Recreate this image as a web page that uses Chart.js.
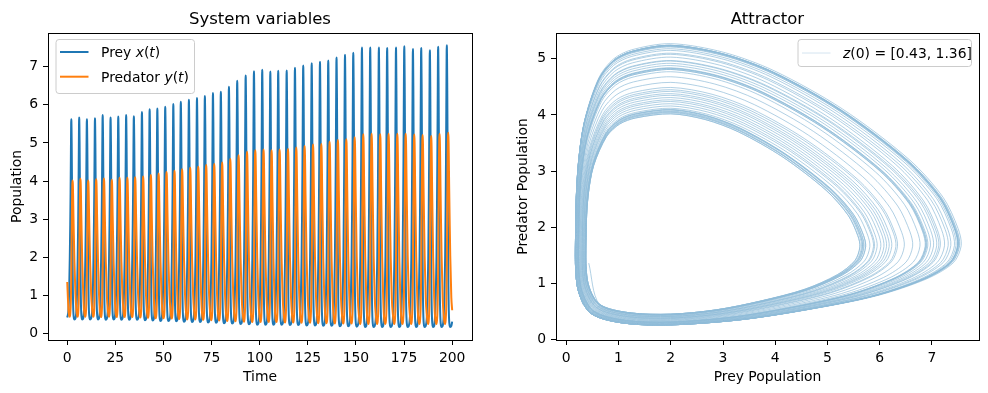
<!DOCTYPE html>
<html>
<head>
<meta charset="utf-8">
<title>Predator-prey</title>
<script src="https://cdn.jsdelivr.net/npm/chart.js@4.4.1/dist/chart.umd.min.js"></script>
<style>
  html, body { margin: 0; padding: 0; background: #fff; }
  canvas { position: absolute; top: 0; }
  #left { left: 0; }
  #right { left: 480px; }
</style>
</head>
<body>
<canvas id="left" width="480" height="393"></canvas>
<canvas id="right" width="508" height="393"></canvas>
<script>
// values, one entry per oscillation
const tPeak = [2.1, 6.2, 10.2, 14.4, 18.4, 22.5, 26.5, 30.6, 34.6, 38.8,
  42.8, 46.8, 50.9, 55.1, 59.0, 63.2, 67.4, 71.5, 75.7, 79.8,
  84.0, 88.3, 92.7, 97.0, 101.3, 105.5, 109.6, 114.0, 118.3, 122.6,
  127.0, 131.3, 135.6, 139.9, 144.3, 148.6, 153.1, 157.4, 161.9, 166.2,
  170.8, 175.1, 179.6, 183.9, 188.4, 192.7, 197.2];
const preyPeak = [5.62, 5.67, 5.62, 5.65, 5.73, 5.67, 5.69, 5.73, 5.70, 5.81,
  5.88, 5.90, 5.95, 6.02, 6.08, 6.13, 6.18, 6.23, 6.31, 6.34,
  6.47, 6.63, 6.77, 6.88, 6.92, 6.87, 6.89, 6.90, 6.97, 7.03,
  7.09, 7.13, 7.16, 7.24, 7.31, 7.36, 7.50, 7.50, 7.50, 7.49,
  7.50, 7.53, 7.46, 7.49, 7.43, 7.52, 7.56];
const predPeak = [4.02, 4.06, 4.02, 4.05, 4.07, 4.04, 4.09, 4.09, 4.10, 4.12,
  4.16, 4.20, 4.24, 4.27, 4.31, 4.35, 4.38, 4.42, 4.45, 4.49,
  4.58, 4.68, 4.77, 4.81, 4.83, 4.81, 4.83, 4.84, 4.88, 4.92,
  4.96, 4.97, 5.03, 5.08, 5.10, 5.15, 5.23, 5.24, 5.23, 5.24,
  5.24, 5.24, 5.22, 5.21, 5.18, 5.24, 5.27];
const preyLow = [0.38, 0.38, 0.38, 0.38, 0.37, 0.38, 0.37, 0.37, 0.37, 0.36,
  0.35, 0.34, 0.34, 0.33, 0.32, 0.31, 0.31, 0.30, 0.29, 0.28,
  0.27, 0.26, 0.25, 0.24, 0.24, 0.24, 0.24, 0.23, 0.23, 0.22,
  0.22, 0.21, 0.21, 0.20, 0.20, 0.19, 0.18, 0.18, 0.18, 0.18,
  0.18, 0.18, 0.18, 0.18, 0.18, 0.18, 0.18];
const predLow = [0.45, 0.45, 0.45, 0.45, 0.44, 0.45, 0.44, 0.44, 0.44, 0.43,
  0.42, 0.41, 0.41, 0.40, 0.39, 0.38, 0.38, 0.37, 0.36, 0.35,
  0.34, 0.33, 0.32, 0.31, 0.31, 0.31, 0.31, 0.30, 0.30, 0.29,
  0.29, 0.28, 0.28, 0.27, 0.27, 0.27, 0.26, 0.26, 0.26, 0.26,
  0.26, 0.26, 0.26, 0.26, 0.26, 0.26, 0.26];

const start = { t: 0, prey: 0.43, pred: 1.36 };
const end = { t: 200, prey: 0.32, pred: 0.62 };

// every loop has its top near prey = 2 and its right tip near predator = 1.6
const centre = { prey: 2.0, pred: 1.6 };
const refPeriod = 4.2;
// one loop of the outer orbit: [time from prey peak, dx, dy], -1..1 from the centre
const cycleShape = [
  [-1.50, -0.846, -0.842],
  [-1.10, -0.495, -0.977],
  [-0.80, 0, -1],
  [-0.55, 0.242, -0.932],
  [-0.37, 0.473, -0.797],
  [-0.23, 0.705, -0.617],
  [-0.13, 0.880, -0.390],
  [-0.065, 0.973, -0.173],
  [0, 1, 0.02],
  [0.05, 0.989, 0.103],
  [0.12, 0.938, 0.253],
  [0.22, 0.822, 0.436],
  [0.35, 0.591, 0.683],
  [0.46, 0.358, 0.867],
  [0.55, 0.182, 0.958],
  [0.68, 0, 1],
  [0.80, -0.412, 0.970],
  [0.88, -0.604, 0.925],
  [0.97, -0.758, 0.833],
  [1.15, -0.912, 0.617],
  [1.38, -0.978, 0.389],
  [1.68, -1, 0.119],
  [2.20, -0.984, -0.481],
];

const timeTicks = [0, 25, 50, 75, 100, 125, 150, 175, 200];
const popTicks = [0, 1, 2, 3, 4, 5, 6, 7];
const preyTicks = [0, 1, 2, 3, 4, 5, 6, 7];
const predTicks = [0, 1, 2, 3, 4, 5];

const series = [start];
for (let i = 0; i < tPeak.length; i++) {
  const period = i < tPeak.length - 1 ? tPeak[i + 1] - tPeak[i] : tPeak[i] - tPeak[i - 1];
  const k = period / refPeriod;
  for (const [dt, dx, dy] of cycleShape) {
    const t = tPeak[i] + dt * k;
    const prey = dx >= 0 ? centre.prey + dx * (preyPeak[i] - centre.prey)
                         : centre.prey + dx * (centre.prey - preyLow[i]);
    const pred = dy >= 0 ? centre.pred + dy * (predPeak[i] - centre.pred)
                         : centre.pred + dy * (centre.pred - predLow[i]);
    if (t > start.t && t < end.t) series.push({ t, prey, pred });
  }
}
series.push(end);

Chart.defaults.font.family = '"DejaVu Sans"';
const FONT = '"DejaVu Sans"';

function axis(min, max, ticks, fit) {
  return {
    type: 'linear', min, max,
    afterBuildTicks: s => { s.ticks = ticks.map(v => ({ value: v })); },
    afterFit: fit,
    ticks: { autoSkip: false, maxRotation: 0, color: '#000', font: { size: 13.9 }, padding: 5,
             callback: v => String(v) },
    grid: { drawOnChartArea: false, drawTicks: true, tickLength: 5, color: '#000', lineWidth: 1 },
    border: { display: false },
  };
}

// frame, titles, axis labels and the matplotlib-like legend
const decor = {
  id: 'decor',
  afterDraw(chart, _args, o) {
    const { ctx, chartArea: a } = chart;
    ctx.save();
    ctx.strokeStyle = '#000';
    ctx.lineWidth = 1;
    ctx.strokeRect(Math.round(a.left) + 0.5, Math.round(a.top) + 0.5,
                   Math.round(a.right - a.left), Math.round(a.bottom - a.top));
    ctx.fillStyle = '#000';
    ctx.textAlign = 'center';
    ctx.textBaseline = 'alphabetic';
    const cx = (a.left + a.right) / 2;
    ctx.font = '16.5px ' + FONT;
    ctx.fillText(o.title, cx, 23.5);
    ctx.font = '13.9px ' + FONT;
    ctx.fillText(o.xLabel, cx, 381);
    ctx.save();
    ctx.translate(o.yLabelX, (a.top + a.bottom) / 2);
    ctx.rotate(-Math.PI / 2);
    ctx.fillText(o.yLabel, 0, 0);
    ctx.restore();

    const L = o.legend;
    ctx.beginPath();
    ctx.roundRect(L.x + 0.5, L.y + 0.5, L.w, L.h, 3);
    ctx.fillStyle = 'rgba(255,255,255,0.8)';
    ctx.fill();
    ctx.strokeStyle = '#cccccc';
    ctx.lineWidth = 1;
    ctx.stroke();
    L.rows.forEach((r, i) => {
      const y = L.y + L.first + i * L.gap;
      ctx.strokeStyle = r.color;
      ctx.lineWidth = r.width;
      ctx.beginPath();
      ctx.moveTo(L.x + 4.5, y);
      ctx.lineTo(L.x + 33, y);
      ctx.stroke();
      let x = L.x + 45.5;
      ctx.fillStyle = '#000';
      ctx.textAlign = 'left';
      for (const [s, italic] of r.parts) {
        ctx.font = (italic ? 'italic ' : '') + '13.9px ' + FONT;
        ctx.fillText(s, x, y + 5);
        x += ctx.measureText(s).width;
      }
    });
    ctx.restore();
  }
};

const PREY = '#1f77b4';
const PRED = '#ff7f0e';
const ORBIT = '#8fbbd9';

new Chart(document.getElementById('left'), {
  type: 'line',
  data: {
    datasets: [
      { label: 'Prey', data: series.map(p => ({ x: p.t, y: p.prey })), borderColor: PREY,
        borderWidth: 2, pointRadius: 0, cubicInterpolationMode: 'monotone', order: 1 },
      { label: 'Predator', data: series.map(p => ({ x: p.t, y: p.pred })), borderColor: PRED,
        borderWidth: 2, pointRadius: 0, cubicInterpolationMode: 'monotone', order: 0 },
    ],
  },
  options: {
    responsive: false,
    animation: false,
    devicePixelRatio: 1,
    layout: { padding: { top: 33, right: 8, left: 0, bottom: 0 } },
    scales: {
      x: axis(-10, 210.3, timeTicks, s => { s.height = 53; }),
      y: axis(-0.16, 7.88, popTicks, s => { s.width = 48; }),
    },
    plugins: {
      legend: { display: false },
      tooltip: { enabled: false },
      decor: {
        title: 'System variables', xLabel: 'Time', yLabel: 'Population', yLabelX: 21,
        legend: {
          x: 55.5, y: 39, w: 138.5, h: 54, first: 13, gap: 24.7,
          rows: [
            { color: PREY, width: 2, parts: [['Prey ', false], ['x', true], ['(', false], ['t', true], [')', false]] },
            { color: PRED, width: 2, parts: [['Predator ', false], ['y', true], ['(', false], ['t', true], [')', false]] },
          ],
        },
      },
    },
  },
  plugins: [decor],
});

new Chart(document.getElementById('right'), {
  type: 'line',
  data: {
    datasets: [
      { label: 'orbit', data: series.map(p => ({ x: p.prey, y: p.pred })), borderColor: ORBIT,
        borderWidth: 0.7, pointRadius: 0, tension: 0.3 },
    ],
  },
  options: {
    responsive: false,
    animation: false,
    devicePixelRatio: 1,
    layout: { padding: { top: 33, right: 9, left: 0, bottom: 0 } },
    scales: {
      x: axis(-0.197, 7.9, preyTicks, s => { s.height = 53; }),
      y: axis(-0.01, 5.46, predTicks, s => { s.width = 76; }),
    },
    plugins: {
      legend: { display: false },
      tooltip: { enabled: false },
      decor: {
        title: 'Attractor', xLabel: 'Prey Population', yLabel: 'Predator Population', yLabelX: 47,
        legend: {
          x: 317.5, y: 39, w: 173.5, h: 27, first: 14, gap: 0,
          rows: [
            { color: '#d4e4f0', width: 1, parts: [['z', true], ['(0) = [0.43, 1.36]', false]] },
          ],
        },
      },
    },
  },
  plugins: [decor],
});
</script>
</body>
</html>
